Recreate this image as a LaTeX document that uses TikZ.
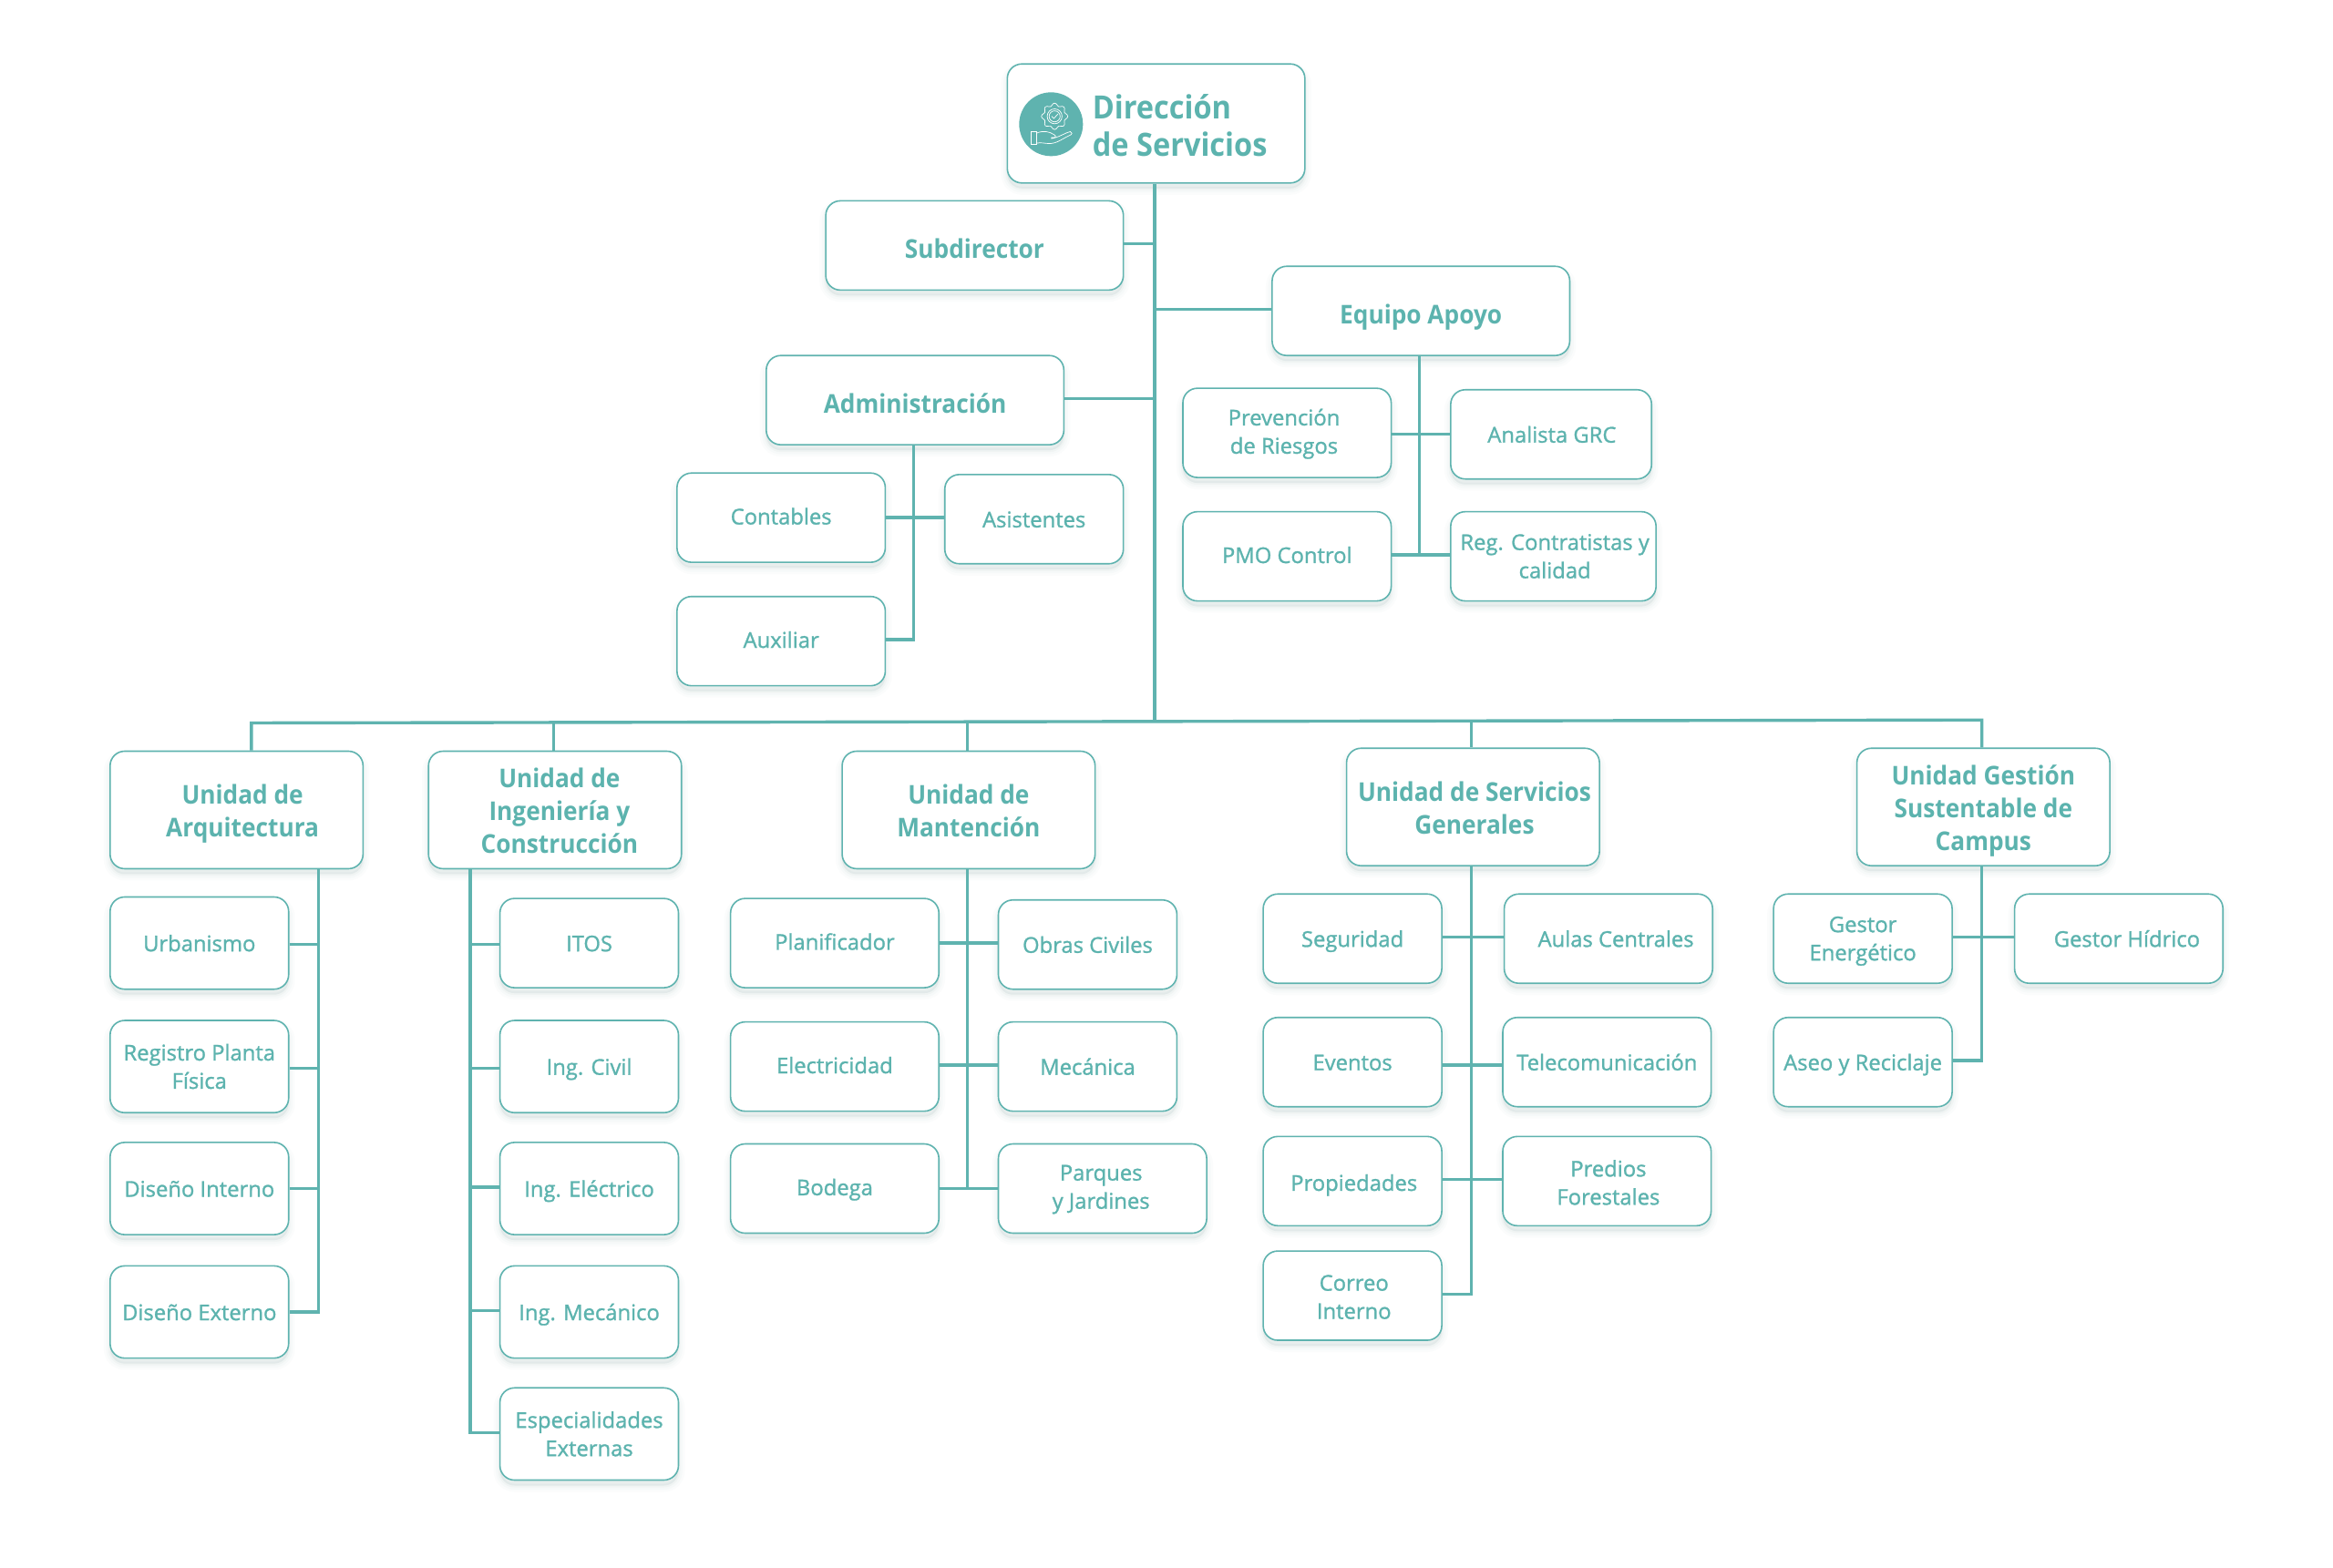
\documentclass[tikz,border=0pt]{standalone}
\usepackage{fontspec}
\setmainfont{Open Sans}
\newfontfamily\semif{Open Sans}[FakeStretch=0.925]
\definecolor{teal1}{HTML}{5FB3AF}
\definecolor{tealtxt}{HTML}{5CB3AE}
\definecolor{shadowc}{HTML}{3A6E6A}
\newcommand{\szbig}{\fontsize{17.6pt}{20.5pt}\semif\bfseries}
\newcommand{\szmid}{\fontsize{14.2pt}{18pt}\semif\bfseries}
\newcommand{\szsm}{\fontsize{11.9pt}{15.5pt}\selectfont\special{pdf:code 0.36 0.70 0.68 RG 2 Tr 0.14 w}}
\tikzset{
  x=0.81633pt,y=-0.81633pt,
  card/.style={draw=teal1,fill=white,line width=0.8pt,rounded corners=8pt,inner sep=0pt,
    preaction={fill=shadowc,draw=shadowc,line width=7pt,fill opacity=.02,draw opacity=.02,transform canvas={yshift=-3pt}},
    preaction={fill=shadowc,draw=shadowc,line width=4.5pt,fill opacity=.025,draw opacity=.025,transform canvas={yshift=-3pt}},
    preaction={fill=shadowc,draw=shadowc,line width=2pt,fill opacity=.035,draw opacity=.035,transform canvas={yshift=-3pt}}},
  lab/.style={text=tealtxt,align=center,inner sep=0pt,execute at begin node={\strut},execute at end node={\strut}},
  labm/.style={lab,font=\szmid,yshift=-1.9pt},
  labs/.style={lab,font=\szsm,yshift=-1.4pt},
  conn/.style={draw=teal1,line width=1.7pt},
}
% name, x0,y0,x1,y1, label style, tx,ty, text
\newcommand{\bx}[9]{%
  \pgfmathsetmacro{\cxx}{(#2+#4)/2}\pgfmathsetmacro{\cyy}{(#3+#5)/2}%
  \pgfmathsetmacro{\wdd}{(#4-#2)*0.81633}\pgfmathsetmacro{\htt}{(#5-#3)*0.81633}%
  \node[card,minimum width=\wdd pt,minimum height=\htt pt] (#1) at (\cxx,\cyy) {};%
  \node[#6] (#1t) at (#7,#8) {#9};}
\begin{document}
\begin{tikzpicture}
\useasboundingbox (0,0) rectangle (1568,1054);
% junctions
\coordinate (trunk) at (776,485);
\coordinate (adm) at (614,430);
\coordinate (eqa) at (954,373);
\coordinate (arq) at (214,882);
\coordinate (ing) at (316,963);
\coordinate (man) at (650,799);
\coordinate (ser) at (989,870);
\coordinate (ges) at (1332,713);
\node[card,minimum width=163.27pt,minimum height=65.31pt] (dir) at (777,83) {};
\bx{sub}{555}{135}{755}{195}{labm}{655}{167}{Subdirector}
\bx{equ}{855}{179}{1055}{239}{labm}{955}{211}{Equipo Apoyo}
\bx{adm0}{515}{239}{715}{299}{labm}{615}{271}{Administración}
\bx{con}{455}{318}{595}{378}{labs}{525}{347}{Contables}
\bx{asi}{635}{319}{755}{379}{labs}{695}{349}{Asistentes}
\bx{aux}{455}{401}{595}{461}{labs}{525}{430}{Auxiliar}
\bx{pre}{795}{261}{935}{321}{labs}{863}{291}{Prevención\\de Riesgos}
\bx{ana}{975}{262}{1110}{322}{labs}{1043}{292}{Analista GRC}
\bx{pmo}{795}{344}{935}{404}{labs}{865}{373}{PMO Control}
\bx{reg}{975}{344}{1113}{404}{labs}{1045}{375}{Reg. Contratistas y\\calidad}
\bx{uar}{74}{505}{244}{584}{labm}{163}{546}{Unidad de\\Arquitectura}
\bx{uin}{288}{505}{458}{584}{labm}{376}{546}{Unidad de\\Ingeniería y\\Construcción}
\bx{uma}{566}{505}{736}{584}{labm}{651}{546}{Unidad de\\Mantención}
\bx{use}{905}{503}{1075}{582}{labm}{991}{544}{Unidad de Servicios\\Generales}
\bx{uge}{1248}{503}{1418}{582}{labm}{1333}{544}{Unidad Gestión\\Sustentable de\\Campus}
\bx{urb}{74}{603}{194}{665}{labs}{134}{634}{Urbanismo}
\bx{rpf}{74}{686}{194}{748}{labs}{134}{718}{Registro Planta\\Física}
\bx{din}{74}{768}{194}{830}{labs}{134}{799}{Diseño Interno}
\bx{dex}{74}{851}{194}{913}{labs}{134}{882}{Diseño Externo}
\bx{ito}{336}{604}{456}{664}{labs}{396}{634}{ITOS}
\bx{civ}{336}{686}{456}{748}{labs}{396}{717}{Ing. Civil}
\bx{ele}{336}{768}{456}{830}{labs}{396}{799}{Ing. Eléctrico}
\bx{mec}{336}{851}{456}{913}{labs}{396}{882}{Ing. Mecánico}
\bx{esp}{336}{933}{456}{995}{labs}{396}{965}{Especialidades\\Externas}
\bx{pla}{491}{604}{631}{664}{labs}{561}{633}{Planificador}
\bx{obr}{671}{605}{791}{665}{labs}{731}{635}{Obras Civiles}
\bx{elc}{491}{687}{631}{747}{labs}{561}{716}{Electricidad}
\bx{mca}{671}{687}{791}{747}{labs}{731}{717}{Mecánica}
\bx{bod}{491}{769}{631}{829}{labs}{561}{798}{Bodega}
\bx{par}{671}{769}{811}{829}{labs}{740}{799}{Parques\\y Jardines}
\bx{seg}{849}{601}{969}{661}{labs}{909}{631}{Seguridad}
\bx{aul}{1011}{601}{1151}{661}{labs}{1086}{631}{Aulas Centrales}
\bx{eve}{849}{684}{969}{744}{labs}{909}{714}{Eventos}
\bx{tel}{1010}{684}{1150}{744}{labs}{1080}{714}{Telecomunicación}
\bx{pro}{849}{764}{969}{824}{labs}{910}{795}{Propiedades}
\bx{prd}{1010}{764}{1150}{824}{labs}{1081}{796}{Predios\\Forestales}
\bx{cor}{849}{841}{969}{901}{labs}{910}{873}{Correo\\Interno}
\bx{gen}{1192}{601}{1312}{661}{labs}{1252}{632}{Gestor\\Energético}
\bx{hid}{1354}{601}{1494}{661}{labs}{1429.5}{631}{Gestor Hídrico}
\bx{ase}{1192}{684}{1312}{744}{labs}{1252}{714}{Aseo y Reciclaje}
% title text
\node[lab,anchor=west,align=left,font=\szbig] (dirtxt) at (734,88) {Dirección\\de Servicios};
% icon
\node[circle,fill=teal1,minimum size=35pt,inner sep=0pt] (ico) at (706.4,83.5) {};
\begin{scope}[shift={(706.4,83.5)},draw=white,line width=0.35pt,fill=none]
  \draw plot[smooth cycle,samples=49,domain=0:360,variable=\a] ({2.4+(8+0.9*cos(8*\a))*cos(\a)},{-5.3+(8+0.9*cos(8*\a))*sin(\a)});
  \draw (2.4,-5.3) circle (5);
  \draw (2.4,-5.3) circle (3.7);
  \draw (0.4,-5.3) -- (1.9,-3.9) -- (4.6,-6.8);
  \draw (-13.3,4.9) rectangle (-9.8,13.5);
  \draw (-9.8,6) .. controls (-5,4) and (-1,5) .. (2,7) .. controls (4,8) and (3,9.5) .. (0,9)
        (0,9.7) .. controls (5,9) and (10,5.5) .. (13,5) .. controls (14.5,5.2) and (14.3,7) .. (12.5,7.5)
        .. controls (8,9.5) and (4,13) .. (-1,13) .. controls (-4,13) and (-7,12) .. (-9.8,12.8);
\end{scope}
% connectors
\draw[conn] (dir.south -| trunk) -- (trunk);
\draw[conn] (sub.east |- 0,164) -- (trunk |- 0,164);
\draw[conn] (equ.west |- 0,208) -- (trunk |- 0,208);
\draw[conn] (adm0.east |- 0,268) -- (trunk |- 0,268);
\draw[conn] (uar.north -| 169,0) -- (169,486) -- (trunk) -- (1332,484) -- (uge.north -| ges);
\draw[conn] (372,486) -- (uin.north -| 372,0);
\draw[conn] (650,485) -- (uma.north -| man);
\draw[conn] (989,484.5) -- (use.north -| ser);
\draw[conn] (adm0.south -| adm) -- (adm) -- (aux.east |- adm);
\draw[conn] (con.east |- 0,348) -- (asi.west |- 0,348);
\draw[conn] (equ.south -| eqa) -- (eqa);
\draw[conn] (pre.east |- 0,292) -- (ana.west |- 0,292);
\draw[conn] (pmo.east |- eqa) -- (reg.west |- eqa);
\draw[conn] (uar.south -| arq) -- (arq) -- (dex.east |- arq);
\draw[conn] (urb.east |- 0,635) -- (arq |- 0,635);
\draw[conn] (rpf.east |- 0,718) -- (arq |- 0,718);
\draw[conn] (din.east |- 0,799) -- (arq |- 0,799);
\draw[conn] (uin.south -| ing) -- (ing) -- (esp.west |- ing);
\draw[conn] (ito.west |- 0,635) -- (ing |- 0,635);
\draw[conn] (civ.west |- 0,718) -- (ing |- 0,718);
\draw[conn] (ele.west |- 0,798) -- (ing |- 0,798);
\draw[conn] (mec.west |- 0,881) -- (ing |- 0,881);
\draw[conn] (uma.south -| man) -- (man);
\draw[conn] (pla.east |- 0,634) -- (obr.west |- 0,634);
\draw[conn] (elc.east |- 0,716) -- (mca.west |- 0,716);
\draw[conn] (bod.east |- man) -- (par.west |- man);
\draw[conn] (use.south -| ser) -- (ser) -- (cor.east |- ser);
\draw[conn] (seg.east |- 0,630) -- (aul.west |- 0,630);
\draw[conn] (eve.east |- 0,716) -- (tel.west |- 0,716);
\draw[conn] (pro.east |- 0,793) -- (prd.west |- 0,793);
\draw[conn] (uge.south -| ges) -- (ges) -- (ase.east |- ges);
\draw[conn] (gen.east |- 0,630) -- (hid.west |- 0,630);
\end{tikzpicture}
\end{document}
